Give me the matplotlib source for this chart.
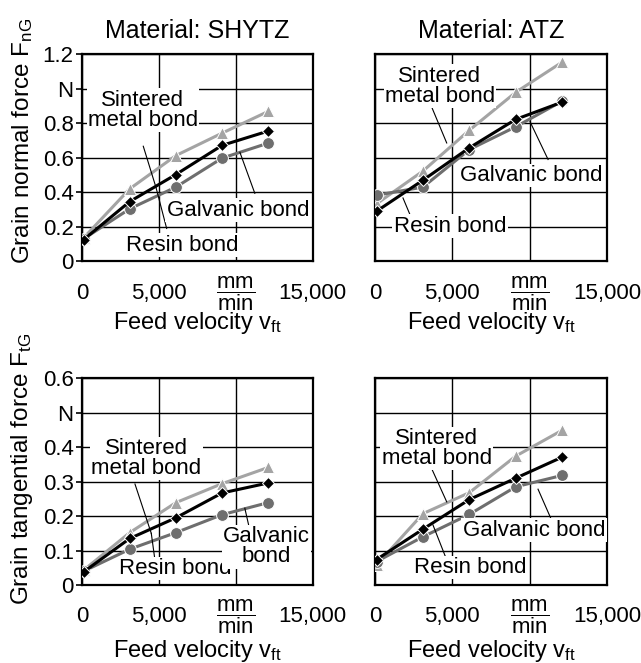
import matplotlib.pyplot as plt

plt.rcParams["font.family"] = ["Liberation Sans", "DejaVu Sans"]
plt.rcParams["mathtext.fontset"] = "custom"
plt.rcParams["mathtext.rm"] = "Liberation Sans"
plt.rcParams["mathtext.it"] = "Liberation Sans:italic"
plt.rcParams["font.size"] = 16

# Data
feed = [100, 3100, 6100, 9100, 12100]

# Grain normal force F_nG in N
fn_shytz_sintered = [0.135, 0.42, 0.613, 0.743, 0.869]
fn_shytz_resin = [0.125, 0.346, 0.503, 0.672, 0.755]
fn_shytz_galvanic = [0.13, 0.304, 0.43, 0.598, 0.685]

fn_atz_sintered = [0.333, 0.523, 0.76, 0.98, 1.155]
fn_atz_resin = [0.29, 0.47, 0.658, 0.823, 0.923]
fn_atz_galvanic = [0.383, 0.43, 0.648, 0.78, 0.929]

# Grain tangential force F_tG in N
ft_shytz_sintered = [0.043, 0.152, 0.239, 0.294, 0.341]
ft_shytz_resin = [0.038, 0.135, 0.195, 0.267, 0.296]
ft_shytz_galvanic = [0.04, 0.104, 0.152, 0.204, 0.239]

ft_atz_sintered = [0.058, 0.207, 0.268, 0.374, 0.449]
ft_atz_resin = [0.074, 0.162, 0.248, 0.31, 0.371]
ft_atz_galvanic = [0.068, 0.14, 0.205, 0.285, 0.318]

x_ticks = [0, 5000, 10000, 15000]
x_ticklabels = ["0", "5,000", r"$\dfrac{\mathrm{mm}}{\mathrm{min}}$", "15,000"]

LIGHT = "#a4a4a4"
DARK = "#6e6e6e"
BLACK = "#000000"

fig = plt.figure(figsize=(6.41, 6.63), dpi=100)

ax_tl = fig.add_axes([0.128, 0.606, 0.360, 0.312])
ax_tr = fig.add_axes([0.585, 0.606, 0.362, 0.312])
ax_bl = fig.add_axes([0.128, 0.1176, 0.360, 0.312])
ax_br = fig.add_axes([0.585, 0.1176, 0.362, 0.312])


def draw_panel(ax, sintered, resin, galvanic, ymax, xlab_y):
    ax.plot(feed, sintered, color=LIGHT, lw=2.2, marker="^", ms=8,
            mec="white", mew=0.7, zorder=3)
    ax.plot(feed, galvanic, color=DARK, lw=2.2, marker="o", ms=8.5,
            mec="white", mew=0.7, zorder=3)
    ax.plot(feed, resin, color=BLACK, lw=2.2, marker="D", ms=6,
            mec="white", mew=0.7, zorder=4)

    ax.set_xlim(0, 15000)
    ax.set_ylim(0, ymax)
    ax.set_xticks(x_ticks)
    ax.set_xticklabels(x_ticklabels, va="center")
    ax.tick_params(axis="x", length=0, pad=23)
    ax.grid(True, color="black", lw=1.0)
    ax.set_axisbelow(True)
    for s in ax.spines.values():
        s.set_linewidth(1.6)
    ax.set_xlabel(r"Feed velocity v$_{\mathrm{ft}}$", fontsize=17, va="center")
    ax.xaxis.set_label_coords(0.5, xlab_y)


def label(ax, text, pos, line=None):
    bbox = dict(facecolor="white", edgecolor="none", pad=1.0)
    ax.text(pos[0], pos[1], text, ha="center", va="center",
            bbox=bbox, zorder=6, linespacing=0.95)
    if line is not None:
        ax.plot([line[0][0], line[1][0]], [line[0][1], line[1][1]],
                color="black", lw=0.8, zorder=5)


# Top left: normal force, SHYTZ
draw_panel(ax_tl, fn_shytz_sintered, fn_shytz_resin, fn_shytz_galvanic, 1.2, -0.30)
ax_tl.set_yticks([0, 0.2, 0.4, 0.6, 0.8, 1.0, 1.2])
ax_tl.set_yticklabels(["0", "0.2", "0.4", "0.6", "0.8", "N", "1.2"])
ax_tl.tick_params(axis="y", length=4, width=1.2, pad=2)
ax_tl.set_ylabel(r"Grain normal force F$_{\mathrm{nG}}$", fontsize=17.5, va="center")
ax_tl.yaxis.set_label_coords(-0.26, 0.58)
ax_tl.set_title("Material: SHYTZ", fontsize=18, pad=12)
label(ax_tl, "Sintered\nmetal bond", (3960, 0.875), ((3980, 0.667), (4800, 0.43)))
label(ax_tl, "Resin bond", (6490, 0.093), ((5500, 0.19), (4800, 0.43)))
label(ax_tl, "Galvanic bond", (10130, 0.296), ((11230, 0.394), (10260, 0.632)))

# Top right: normal force, ATZ
draw_panel(ax_tr, fn_atz_sintered, fn_atz_resin, fn_atz_galvanic, 1.2, -0.30)
ax_tr.set_yticks([0, 0.2, 0.4, 0.6, 0.8, 1.0, 1.2])
ax_tr.set_yticklabels([])
ax_tr.tick_params(axis="y", length=0)
ax_tr.set_title("Material: ATZ", fontsize=18, pad=12)
label(ax_tr, "Sintered\nmetal bond", (4200, 1.015), ((3556, 0.918), (4636, 0.686)))
label(ax_tr, "Resin bond", (4850, 0.203), ((2263, 0.27), (1810, 0.367)))
label(ax_tr, "Galvanic bond", (10130, 0.497), ((11190, 0.59), (10020, 0.81)))

# Bottom left: tangential force, SHYTZ
draw_panel(ax_bl, ft_shytz_sintered, ft_shytz_resin, ft_shytz_galvanic, 0.6, -0.32)
ax_bl.set_yticks([0, 0.1, 0.2, 0.3, 0.4, 0.5, 0.6])
ax_bl.set_yticklabels(["0", "0.1", "0.2", "0.3", "0.4", "N", "0.6"])
ax_bl.tick_params(axis="y", length=4, width=1.2, pad=2)
ax_bl.set_ylabel(r"Grain tangential force F$_{\mathrm{tG}}$", fontsize=17.5, va="center")
ax_bl.yaxis.set_label_coords(-0.26, 0.56)
label(ax_bl, "Sintered\nmetal bond", (4180, 0.367), ((3440, 0.293), (4500, 0.15)))
label(ax_bl, "Resin bond", (6040, 0.048), ((4740, 0.072), (4500, 0.15)))
label(ax_bl, "Galvanic\nbond", (12000, 0.111), ((10900, 0.16), (10580, 0.223)))

# Bottom right: tangential force, ATZ
draw_panel(ax_br, ft_atz_sintered, ft_atz_resin, ft_atz_galvanic, 0.6, -0.32)
ax_br.set_yticks([0, 0.1, 0.2, 0.3, 0.4, 0.5, 0.6])
ax_br.set_yticklabels([])
ax_br.tick_params(axis="y", length=0)
label(ax_br, "Sintered\nmetal bond", (3990, 0.396), ((3560, 0.348), (4640, 0.241)))
label(ax_br, "Resin bond", (6140, 0.051), ((4530, 0.085), (3750, 0.174)))
label(ax_br, "Galvanic bond", (10280, 0.159), ((11420, 0.188), (10540, 0.278)))

fig.savefig("out.png", dpi=100)
